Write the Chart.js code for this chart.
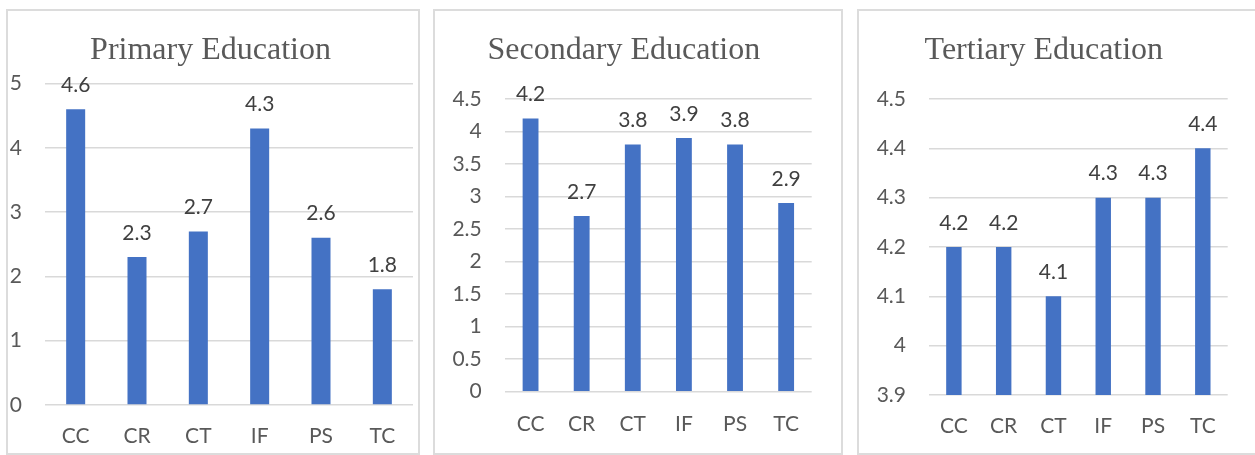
<!DOCTYPE html>
<html>
<head>
<meta charset="utf-8">
<script src="https://cdn.jsdelivr.net/npm/chart.js@4.4.1/dist/chart.umd.min.js"></script>
<style>
  html, body { margin: 0; padding: 0; background: #ffffff; }
  body { width: 1255px; height: 455px; position: relative; overflow: hidden; }
  .frame { position: absolute; border: 2px solid #dcdcdc; box-sizing: border-box; }
  .wrap { position: absolute; }
  canvas { display: block; }
</style>
</head>
<body>
<div class="frame" style="left:6px; top:9px; width:414px; height:446px;"></div>
<div class="frame" style="left:433px; top:9px; width:410px; height:446px;"></div>
<div class="frame" style="left:857px; top:9px; width:410px; height:446px;"></div>

<div class="wrap" style="left:8px; top:11px; width:409px; height:442px;"><canvas id="c1"></canvas></div>
<div class="wrap" style="left:436px; top:11px; width:404px; height:442px;"><canvas id="c2"></canvas></div>
<div class="wrap" style="left:860px; top:11px; width:396px; height:442px;"><canvas id="c3"></canvas></div>

<script>
// ---- data ----
const categories = ["CC", "CR", "CT", "IF", "PS", "TC"];

const primaryValues   = [4.6, 2.3, 2.7, 4.3, 2.6, 1.8];
const secondaryValues = [4.2, 2.7, 3.8, 3.9, 3.8, 2.9];
const tertiaryValues  = [4.2, 4.2, 4.1, 4.3, 4.3, 4.4];

const primaryTicks   = [0, 1, 2, 3, 4, 5];
const secondaryTicks = [0, 0.5, 1, 1.5, 2, 2.5, 3, 3.5, 4, 4.5];
const tertiaryTicks  = [3.9, 4, 4.1, 4.2, 4.3, 4.4, 4.5];

const titles = ["Primary Education", "Secondary Education", "Tertiary Education"];

// ---- drawing ----
const BAR = "#4472C4";
const GRID = "#d9d9d9";
const TICK = "#595959";
const LABEL = "#404040";
const SANS = "Lato, 'Liberation Sans', sans-serif";
const SERIF = "'Liberation Serif', 'Times New Roman', serif";
const FS = 21;

const dataLabels = {
  id: "dataLabels",
  afterDatasetsDraw(chart) {
    const ctx = chart.ctx;
    const meta = chart.getDatasetMeta(0);
    const vals = chart.data.datasets[0].data;
    ctx.save();
    ctx.font = FS + "px " + SANS;
    ctx.fillStyle = LABEL;
    ctx.textAlign = "center";
    ctx.textBaseline = "alphabetic";
    meta.data.forEach((el, i) => {
      ctx.fillText(String(vals[i]), el.x, el.y - 17.5);
    });
    ctx.restore();
  }
};

function makeChart(id, title, values, ticks, geo) {
  const fmt = v => String(Number(v.toFixed(2)));
  return new Chart(document.getElementById(id), {
    type: "bar",
    data: {
      labels: categories,
      datasets: [{
        data: values,
        backgroundColor: BAR,
        borderWidth: 0,
        categoryPercentage: 1,
        barPercentage: 0.31
      }]
    },
    options: {
      responsive: true,
      maintainAspectRatio: false,
      animation: false,
      devicePixelRatio: 1,
      layout: { padding: { left: 0, right: geo.right, top: 0, bottom: 0 } },
      plugins: {
        legend: { display: false },
        tooltip: { enabled: false },
        title: {
          display: true,
          text: title,
          color: TICK,
          font: { family: SERIF, size: 32, weight: "normal", lineHeight: 1.2 },
          padding: { top: geo.titleTop, bottom: geo.titleBottom }
        }
      },
      scales: {
        x: {
          offset: true,
          grid: { display: false, drawTicks: false },
          border: { display: false },
          ticks: {
            color: TICK,
            font: { family: SANS, size: FS },
            padding: geo.xPad,
            maxRotation: 0,
            autoSkip: false
          },
          afterFit(axis) { axis.height = geo.xHeight; }
        },
        y: {
          min: ticks[0],
          max: ticks[ticks.length - 1],
          grid: { color: GRID, lineWidth: 1.5, drawTicks: false },
          border: { display: false },
          ticks: {
            color: TICK,
            font: { family: SANS, size: FS },
            padding: geo.yPad,
            callback: v => fmt(v)
          },
          afterBuildTicks(axis) { axis.ticks = ticks.map(v => ({ value: v })); },
          afterFit(axis) { axis.width = geo.yWidth; }
        }
      }
    },
    plugins: [dataLabels]
  });
}

makeChart("c1", titles[0], primaryValues, primaryTicks,
  { right: 4, titleTop: 20.3, titleBottom: 13.8, xHeight: 48, xPad: 18.5, yPad: 23, yWidth: 37 });
makeChart("c2", titles[1], secondaryValues, secondaryTicks,
  { right: 28.3, titleTop: 20.3, titleBottom: 29.3, xHeight: 61.3, xPad: 19.5, yPad: 23.3, yWidth: 69 });
makeChart("c3", titles[2], tertiaryValues, tertiaryTicks,
  { right: 28.3, titleTop: 20.3, titleBottom: 29.3, xHeight: 58, xPad: 18.5, yPad: 23, yWidth: 69 });
</script>
</body>
</html>
